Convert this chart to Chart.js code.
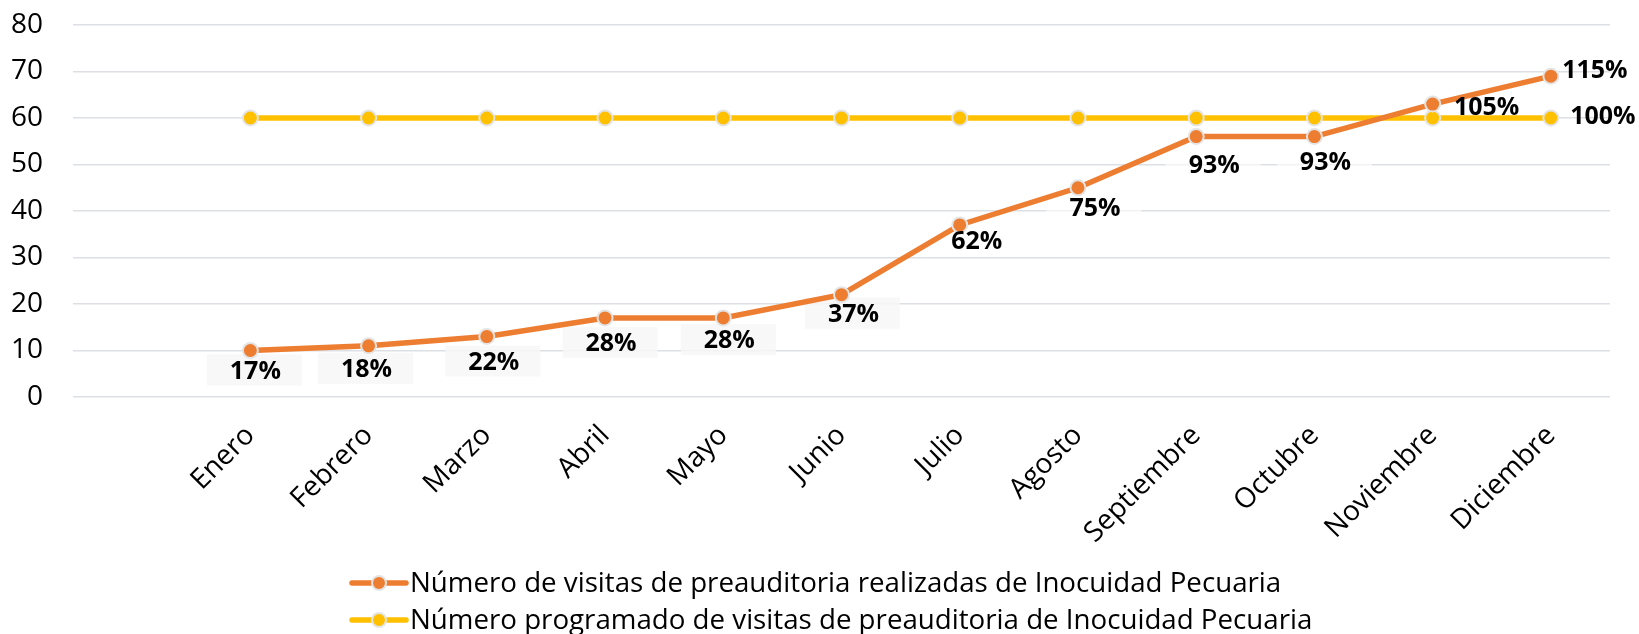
<!DOCTYPE html>
<html>
<head>
<meta charset="utf-8">
<script src="https://cdn.jsdelivr.net/npm/chart.js@4"></script>
<style>
  html, body { margin: 0; padding: 0; background: #ffffff; }
  #wrap { width: 1639px; height: 634px; }
</style>
</head>
<body>
<div id="wrap"><canvas id="c" width="1639" height="634"></canvas></div>
<script>
// ---- data ----
const months = ['Enero', 'Febrero', 'Marzo', 'Abril', 'Mayo', 'Junio', 'Julio', 'Agosto', 'Septiembre', 'Octubre', 'Noviembre', 'Diciembre'];
const realizadas = [10, 11, 13, 17, 17, 22, 37, 45, 56, 56, 63, 69];
const programado = [60, 60, 60, 60, 60, 60, 60, 60, 60, 60, 60, 60];
const realizadasPct = ['17%', '18%', '22%', '28%', '28%', '37%', '62%', '75%', '93%', '93%', '105%', '115%'];
const programadoPct = ['', '', '', '', '', '', '', '', '', '', '', '100%'];
const seriesNames = [
  'Número de visitas de preauditoria realizadas de Inocuidad Pecuaria',
  'Número programado de visitas de preauditoria de Inocuidad Pecuaria'
];
const yTicks = [0, 10, 20, 30, 40, 50, 60, 70, 80];

// ---- layout / style (not data) ----
const ORANGE = '#ED7D31';
const YELLOW = '#FFC000';
const FONT = '"Open Sans", "DejaVu Sans", sans-serif';
// label centre offsets from their point, in px
const realLabelOffsets = [[5,21],[-2,24],[7,26],[6,26],[6,23],[12,20],[17,17],[17,21],[18,29],[11,26],[54,4],[44,-5]];
const progLabelOffsets = [null,null,null,null,null,null,null,null,null,null,null,[52,-1]];
// label background boxes: faint grey, white, or none
const GREYBOX = 'rgba(247,247,247,0.85)';
const WHITEBOX = 'rgba(255,255,255,0.6)';
const realLabelBox = [GREYBOX, GREYBOX, GREYBOX, GREYBOX, GREYBOX, GREYBOX, WHITEBOX, WHITEBOX, WHITEBOX, WHITEBOX, null, null];

// leading empty category (the reference keeps an empty slot before Enero)
const labels = [''].concat(months);

const dataLabelPlugin = {
  id: 'dataLabels',
  beforeDatasetsDraw(chart) {
    const ctx = chart.ctx;
    ctx.save();
    ctx.font = 'bold 25px ' + FONT;
    const meta = chart.getDatasetMeta(0);
    realizadasPct.forEach((t, i) => {
      if (!realLabelBox[i]) return;
      const p = meta.data[i + 1];
      const o = realLabelOffsets[i];
      const w = ctx.measureText(t).width + 44;
      ctx.fillStyle = realLabelBox[i];
      ctx.fillRect(p.x + o[0] - w / 2 - 1, p.y + o[1] - 17, w, 31);
    });
    ctx.restore();
  },
  afterDatasetsDraw(chart) {
    const ctx = chart.ctx;
    ctx.save();
    ctx.font = 'bold 25px ' + FONT;
    ctx.fillStyle = '#000000';
    ctx.textAlign = 'center';
    ctx.textBaseline = 'middle';
    const m0 = chart.getDatasetMeta(0);
    realizadasPct.forEach((t, i) => {
      const p = m0.data[i + 1];
      const o = realLabelOffsets[i];
      ctx.fillText(t, p.x + o[0], p.y + o[1]);
    });
    const m1 = chart.getDatasetMeta(1);
    programadoPct.forEach((t, i) => {
      if (!t) return;
      const p = m1.data[i + 1];
      const o = progLabelOffsets[i];
      ctx.fillText(t, p.x + o[0], p.y + o[1]);
    });
    ctx.restore();
  }
};

const legendPlugin = {
  id: 'customLegend',
  afterDraw(chart) {
    const ctx = chart.ctx;
    ctx.save();
    const rows = [583, 620];
    const colors = [ORANGE, YELLOW];
    rows.forEach((y, i) => {
      ctx.strokeStyle = colors[i];
      ctx.lineWidth = 5.5;
      ctx.lineCap = 'round';
      ctx.beginPath();
      ctx.moveTo(352, y);
      ctx.lineTo(406, y);
      ctx.stroke();
      ctx.beginPath();
      ctx.arc(379, y, 7, 0, Math.PI * 2);
      ctx.fillStyle = colors[i];
      ctx.fill();
      ctx.lineWidth = 2;
      ctx.strokeStyle = '#e4e4e4';
      ctx.stroke();
      ctx.fillStyle = '#000000';
      ctx.font = '27.7px ' + FONT;
      ctx.textAlign = 'left';
      ctx.textBaseline = 'middle';
      ctx.fillText(chart.data.datasets[i].label, 410, y + 1);
    });
    ctx.restore();
  }
};

new Chart(document.getElementById('c'), {
  type: 'line',
  data: {
    labels: labels,
    datasets: [
      {
        label: seriesNames[0],
        data: [null].concat(realizadas),
        borderColor: ORANGE,
        backgroundColor: ORANGE,
        borderWidth: 5.5,
        pointRadius: 7.5,
        pointBorderWidth: 2,
        pointBackgroundColor: ORANGE,
        pointBorderColor: '#e4e4e4',
        tension: 0,
        order: 0
      },
      {
        label: seriesNames[1],
        data: [null].concat(programado),
        borderColor: YELLOW,
        backgroundColor: YELLOW,
        borderWidth: 5.5,
        pointRadius: 7.5,
        pointBorderWidth: 2,
        pointBackgroundColor: YELLOW,
        pointBorderColor: '#e4e4e4',
        tension: 0,
        order: 1
      }
    ]
  },
  options: {
    responsive: false,
    animation: false,
    events: [],
    layout: { autoPadding: false, padding: { left: 0, top: 25, right: 29, bottom: 20 } },
    plugins: { legend: { display: false }, tooltip: { enabled: false } },
    scales: {
      x: {
        offset: true,
        grid: { display: false, drawTicks: false },
        border: { display: false },
        ticks: {
          color: '#000000',
          font: { family: FONT, size: 28 },
          maxRotation: 45,
          minRotation: 45,
          autoSkip: false,
          padding: 22
        },
        afterFit(scale) {
          scale.height = 634 - 397 - 20;
          scale.paddingLeft = 0; scale.paddingRight = 0;
          scale.paddingTop = 0; scale.paddingBottom = 0;
        }
      },
      y: {
        min: 0,
        max: 80,
        afterBuildTicks(scale) { scale.ticks = yTicks.map(v => ({ value: v })); },
        grid: { color: '#dcdfe4', lineWidth: 1.5, drawTicks: false },
        border: { display: false },
        ticks: {
          color: '#000000',
          font: { family: FONT, size: 28 },
          padding: 30
        },
        afterFit(scale) {
          scale.width = 73;
          scale.paddingTop = 0; scale.paddingBottom = 0;
          scale.paddingLeft = 0; scale.paddingRight = 0;
        }
      }
    }
  },
  plugins: [dataLabelPlugin, legendPlugin]
});
</script>
</body>
</html>
